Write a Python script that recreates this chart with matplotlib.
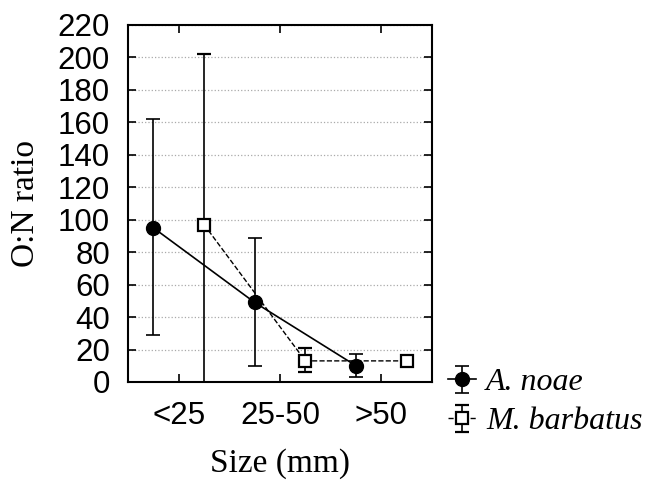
import matplotlib.pyplot as plt
import numpy as np
from matplotlib.legend_handler import HandlerErrorbar

categories = ["<25", "25-50", ">50"]
noae_mean = [95, 49, 10]
noae_upper = [162, 89, 17]
noae_lower = [29, 10, 3]
barb_mean = [97, 13, 13]
barb_upper = [202, 21, 14]
barb_lower = [-10, 6, 12]

x = np.arange(len(categories))
off = 0.25

fig = plt.figure(figsize=(6.51, 4.8), dpi=100)
ax = fig.add_axes([0.1966, 0.2042, 0.467, 0.744])

noae_mean = np.array(noae_mean)
barb_mean = np.array(barb_mean)
e1 = ax.errorbar(
    x - off, noae_mean,
    yerr=[noae_mean - np.array(noae_lower), np.array(noae_upper) - noae_mean],
    fmt="o-", color="black", ms=10, lw=1.2, elinewidth=1.2, capsize=5,
    capthick=1.2, label="A. noae", zorder=3,
)
e2 = ax.errorbar(
    x + off, barb_mean,
    yerr=[barb_mean - np.array(barb_lower), np.array(barb_upper) - barb_mean],
    fmt="s--", color="black", mfc="white", mew=1.6, ms=9, lw=1.0,
    elinewidth=1.2, capsize=5, capthick=1.2, label="M. barbatus", zorder=3,
)

ax.set_xlim(-0.5, 2.5)
ax.set_ylim(0, 220)
ax.set_xticks(x)
ax.set_xticklabels(categories)
ax.set_yticks(np.arange(0, 221, 20))
ax.yaxis.grid(True, linestyle=":", color="#aaaaaa", lw=0.9)
ax.set_axisbelow(True)
ax.tick_params(direction="in", top=True, right=True, length=6, width=1.2,
               labelsize=22.5)
for lab in ax.get_xticklabels() + ax.get_yticklabels():
    lab.set_fontfamily("Liberation Sans")
ax.tick_params(axis="y", pad=13)
ax.tick_params(axis="x", pad=14)
for s in ax.spines.values():
    s.set_linewidth(1.5)

ax.set_ylabel("O:N ratio", fontfamily="Liberation Serif", fontsize=24, labelpad=12)
ax.set_xlabel("Size (mm)", fontfamily="Liberation Serif", fontsize=24, labelpad=12)

fig.legend(
    handles=[e1, e2], loc="upper left", bbox_to_anchor=(0.668, 0.26),
    frameon=False, prop={"family": "Liberation Serif", "style": "italic", "size": 23},
    handlelength=0.9, handletextpad=0.3, labelspacing=0.3, borderaxespad=0,
    handler_map={type(e1): HandlerErrorbar(xerr_size=0.4, yerr_size=0.42)},
)

fig.savefig("out.png", dpi=100)
